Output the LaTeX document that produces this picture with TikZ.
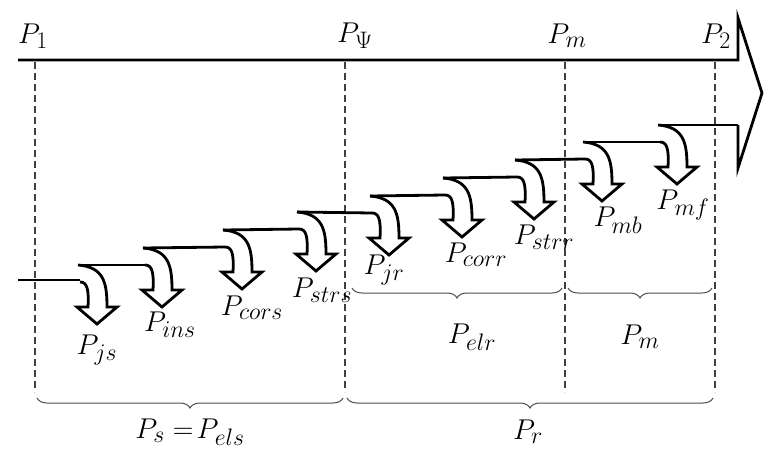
\documentclass[tikz,border=0pt]{standalone}
\usetikzlibrary{decorations.pathreplacing}
\begin{document}
\begin{tikzpicture}[x=1pt,y=-1pt,
  flow/.style={line width=2.8pt,line join=miter},
  guide/.style={dash pattern=on 7pt off 4pt,line width=1.3pt,black!75},
  brc/.style={decorate,decoration={brace,amplitude=10pt,mirror},line width=1pt,black!70},
  lab/.style={font=\Huge,scale=1.15,inner sep=0pt}]
\useasboundingbox (0,0) rectangle (768,460);
\foreach \n/\x in {d1/35,d2/345,d3/565,d4/715}{
  \coordinate (\n t) at (\x,62); \coordinate (\n b) at (\x,392);
  \draw[guide] (\n t) -- (\n b);}
\node[lab] (p1) at (33,36) {$P_1$};
\node[lab] (ppsi) at (355,36) {$P_\Psi$};
\node[lab] (pmt) at (567,36) {$P_m$};
\node[lab] (p2) at (716,36) {$P_2$};
\coordinate (s0) at (18,60);
\coordinate (h1) at (738,60);
\coordinate (h2) at (738,18);
\coordinate (tip) at (762,93);
\coordinate (h3) at (738,168);
\coordinate (h4) at (738,125);
\draw[flow] (s0) -- (h1) -- (h2) -- (tip) -- (h3) -- (h4);
\coordinate (l0) at (18,280);
\foreach \x/\y [count=\k] in {78/265,143/248,223/230,297/212,370/196,443/178,515/160,583/142,658/125}{
  \coordinate (a\k) at (\x,\y);
  \draw[flow] (a\k)
    .. controls +(26,2) and +(0,-24) .. +(29,42)
    -- +(39,42) -- +(19,59) -- +(-1,42) -- +(10,42)
    .. controls +(1,-18) and +(7,0) .. +(2,17);
}
\foreach \i/\j in {1/2,2/3,3/4,4/5,5/6,6/7,7/8,8/9}{
  \draw[flow] (a\i) -- ([xshift=2pt,yshift=-17pt]a\j);}
\draw[flow] (l0) -- ([xshift=2pt,yshift=-15pt]a1);
\draw[flow] (a9) -- (h4);
\node[lab] (pjs) at (97,350) {$P_{js}$};
\node[lab] (pins) at (170,325) {$P_{ins}$};
\node[lab] (pcors) at (252,308) {$P_{cors}$};
\node[lab] (pstrs) at (322,290) {$P_{strs}$};
\node[lab] (pjr) at (384,270) {$P_{jr}$};
\node[lab] (pcorr) at (476,255) {$P_{corr}$};
\node[lab] (pstrr) at (544,237) {$P_{strr}$};
\node[lab] (pmb) at (618,220) {$P_{mb}$};
\node[lab] (pmf) at (683,205) {$P_{mf}$};
\coordinate (b1) at (37,398); \coordinate (b2) at (343,398);
\coordinate (b3) at (347,398); \coordinate (b4) at (713,398);
\coordinate (b5) at (352,288); \coordinate (b6) at (562,288);
\coordinate (b7) at (568,288); \coordinate (b8) at (712,288);
\draw[brc] (b1) -- (b2);
\draw[brc] (b3) -- (b4);
\draw[brc] (b5) -- (b6);
\draw[brc] (b7) -- (b8);
\node[lab] (ps) at (190,432) {$P_s=\!P_{els}$};
\node[lab] (pr) at (528,432) {$P_r$};
\node[lab] (pelr) at (472,337) {$P_{elr}$};
\node[lab] (pm) at (640,337) {$P_m$};
\end{tikzpicture}
\end{document}
